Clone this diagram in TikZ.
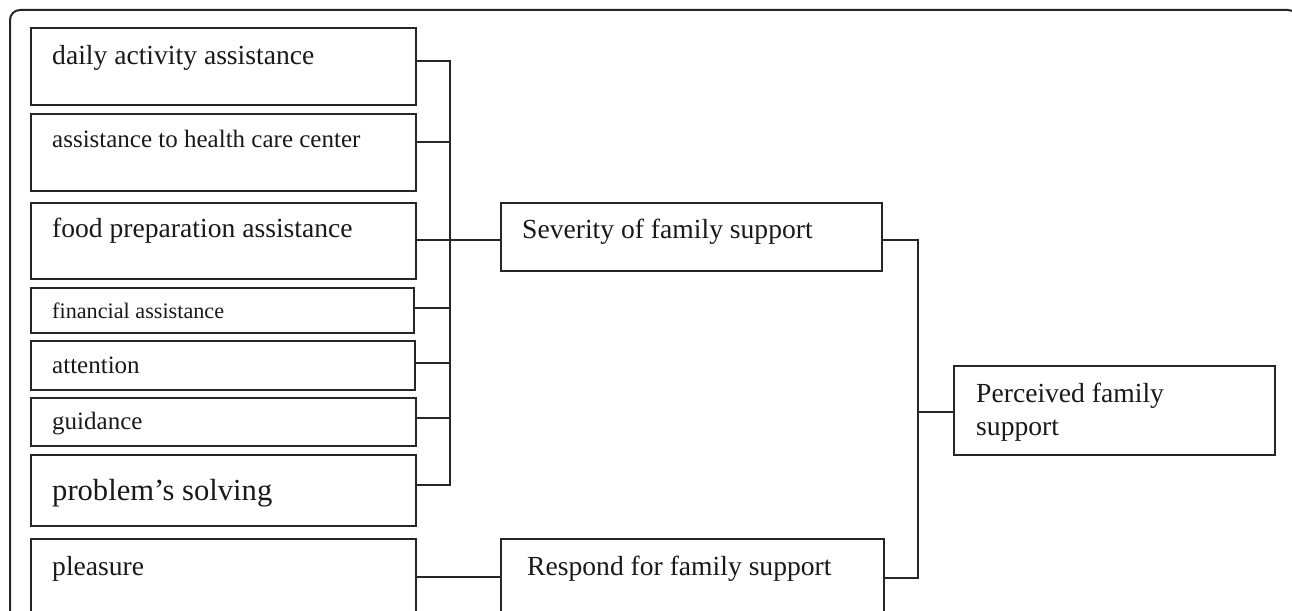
\documentclass[tikz,border=0pt]{standalone}
\usepackage{fontspec}
\setmainfont{Liberation Serif}
\begin{document}
\begin{tikzpicture}[x=1pt,y=-1pt,
  ln/.style={line width=2pt, black!85},
  boxst/.style={draw, ln, inner sep=0pt, anchor=north west},
  fA/.style={font=\fontsize{27.6pt}{33pt}\selectfont},
  fB/.style={font=\fontsize{25pt}{30pt}\selectfont},
  fC/.style={font=\fontsize{22.2pt}{27pt}\selectfont},
  fD/.style={font=\fontsize{30.6pt}{36pt}\selectfont},
  lbl/.style={anchor=base west, inner sep=0pt, text=black!90}]
\useasboundingbox (0,0) rectangle (1292,610);
\clip (0,0) rectangle (1292,610);
% outer frame
\draw[ln, rounded corners=10pt] (10,640) -- (10,10) -- (1298,10) -- (1298,640);
% left boxes
\node[boxst, minimum width=385pt, minimum height=77pt] (b1) at (30,27) {};
\node[boxst, minimum width=385pt, minimum height=77pt] (b2) at (30,113) {};
\node[boxst, minimum width=385pt, minimum height=76pt] (b3) at (30,202) {};
\node[boxst, minimum width=383pt, minimum height=45pt] (b4) at (30,287) {};
\node[boxst, minimum width=384pt, minimum height=49pt] (b5) at (30,340) {};
\node[boxst, minimum width=385pt, minimum height=48pt] (b6) at (30,397) {};
\node[boxst, minimum width=385pt, minimum height=71pt] (b7) at (30,454) {};
\node[boxst, minimum width=385pt, minimum height=90pt] (b8) at (30,538) {};
% middle and right boxes
\node[boxst, minimum width=381pt, minimum height=68pt] (sev) at (500,202) {};
\node[boxst, minimum width=383pt, minimum height=90pt] (resp) at (500,538) {};
\node[boxst, minimum width=321pt, minimum height=89pt] (perc) at (953,365) {};
% texts
\node[lbl, fA] (t1) at (52,65) {daily activity assistance};
\node[lbl, fB] (t2) at (52,147) {assistance to health care center};
\node[lbl, fA] (t3) at (52,237) {food preparation assistance};
\node[lbl, fC] (t4) at (52,318) {financial assistance};
\node[lbl, fB] (t5) at (52,373) {attention};
\node[lbl, fB] (t6) at (52,429) {guidance};
\node[lbl, fD] (t7) at (52,500) {problem’s solving};
\node[lbl, fA] (t8) at (52,575) {pleasure};
\node[lbl, fA] (ts) at (522,238) {Severity of family support};
\node[lbl, fA] (tr) at (527,575) {Respond for family support};
\node[lbl, fA] (tp1) at (976,402) {Perceived family};
\node[lbl, fA] (tp2) at (976,435) {support};
% bus coordinates
\coordinate (busT) at (450,61);
\coordinate (busB) at (450,485);
\coordinate (rT) at (918,240);
\coordinate (rB) at (918,578);
% connectors to the left bus
\draw[ln] (b1.east |- busT) -- (busT) -- (busB) -- (b7.east |- busB);
\draw[ln] (b2.east |- 0,142) -- (450,142);
\draw[ln] (b3.east |- 0,240) -- (sev.west |- 0,240);
\draw[ln] (b4.east |- 0,308) -- (450,308);
\draw[ln] (b5.east |- 0,363) -- (450,363);
\draw[ln] (b6.east |- 0,418) -- (450,418);
\draw[ln] (b8.east |- 0,577) -- (resp.west |- 0,577);
% right bus
\draw[ln] (sev.east |- rT) -- (rT) -- (rB) -- (resp.east |- rB);
\draw[ln] (918,412) -- (perc.west |- 0,412);
\end{tikzpicture}
\end{document}
